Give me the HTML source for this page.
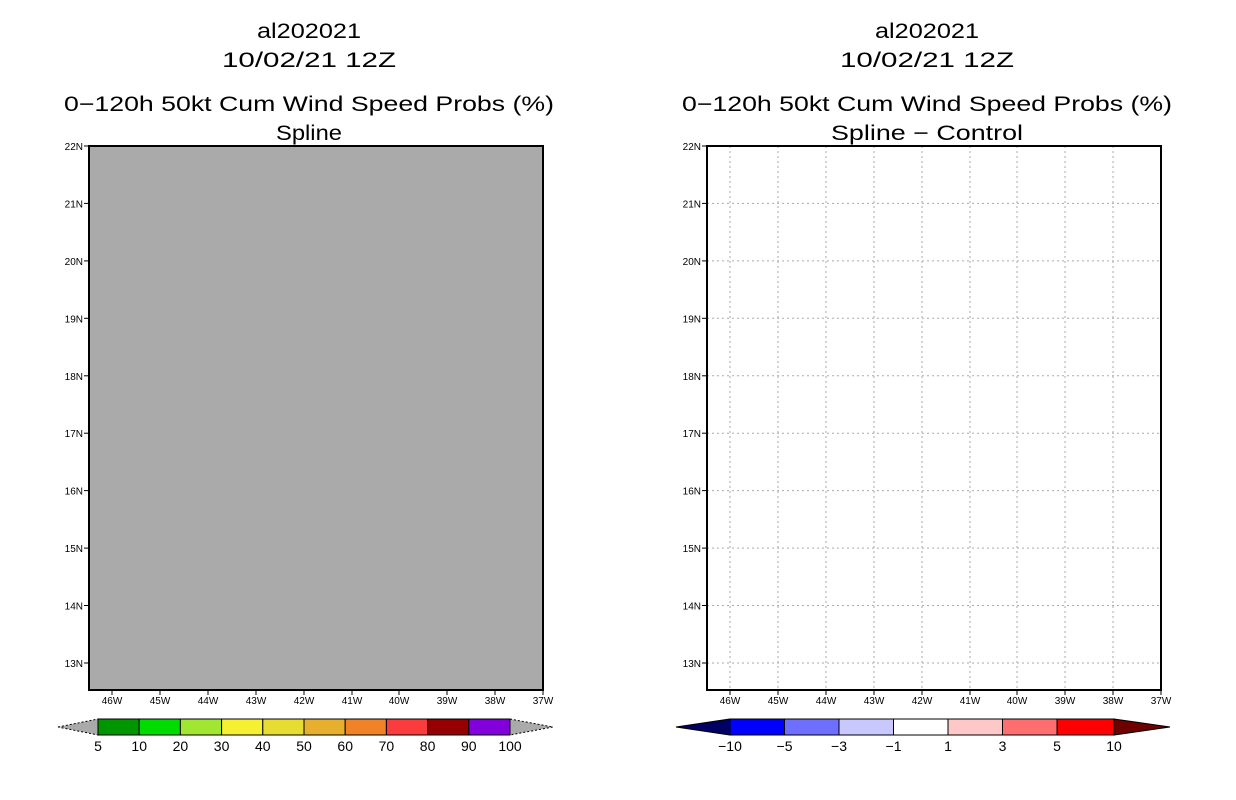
<!DOCTYPE html>
<html><head><meta charset="utf-8"><style>html,body{margin:0;padding:0;background:#fff}svg{display:block}</style></head><body>
<svg width="1236" height="800" xmlns="http://www.w3.org/2000/svg" font-family="Liberation Sans, sans-serif">
<rect width="1236" height="800" fill="#fff"/>
<g font-size="21" text-anchor="middle" fill="#000">
<text x="309" y="38" textLength="104" lengthAdjust="spacingAndGlyphs">al202021</text>
<text x="309" y="67" textLength="174" lengthAdjust="spacingAndGlyphs">10/02/21 12Z</text>
<text x="309" y="111" textLength="490" lengthAdjust="spacingAndGlyphs">0−120h 50kt Cum Wind Speed Probs (%)</text>
<text x="309" y="140" textLength="66" lengthAdjust="spacingAndGlyphs">Spline</text>
<text x="927" y="38" textLength="104" lengthAdjust="spacingAndGlyphs">al202021</text>
<text x="927" y="67" textLength="174" lengthAdjust="spacingAndGlyphs">10/02/21 12Z</text>
<text x="927" y="111" textLength="490" lengthAdjust="spacingAndGlyphs">0−120h 50kt Cum Wind Speed Probs (%)</text>
<text x="927" y="140" textLength="192" lengthAdjust="spacingAndGlyphs">Spline − Control</text>
</g>
<!-- left plot -->
<rect x="89" y="146" width="454" height="544" fill="#aaaaaa" stroke="#000" stroke-width="2"/>
<!-- right plot grid -->
<g stroke="#aaa" stroke-width="1" stroke-dasharray="2,3">
<line x1="730" y1="146" x2="730" y2="690"/><line x1="778" y1="146" x2="778" y2="690"/><line x1="826" y1="146" x2="826" y2="690"/><line x1="874" y1="146" x2="874" y2="690"/><line x1="922" y1="146" x2="922" y2="690"/><line x1="970" y1="146" x2="970" y2="690"/><line x1="1017" y1="146" x2="1017" y2="690"/><line x1="1065" y1="146" x2="1065" y2="690"/><line x1="1113" y1="146" x2="1113" y2="690"/>
<line x1="707" y1="203.4" x2="1161" y2="203.4"/><line x1="707" y1="260.9" x2="1161" y2="260.9"/><line x1="707" y1="318.3" x2="1161" y2="318.3"/><line x1="707" y1="375.8" x2="1161" y2="375.8"/><line x1="707" y1="433.2" x2="1161" y2="433.2"/><line x1="707" y1="490.6" x2="1161" y2="490.6"/><line x1="707" y1="548.1" x2="1161" y2="548.1"/><line x1="707" y1="605.5" x2="1161" y2="605.5"/><line x1="707" y1="663" x2="1161" y2="663"/>
</g>
<rect x="707" y="146" width="454" height="544" fill="none" stroke="#000" stroke-width="2"/>
<!-- ticks and labels, both plots -->
<g id="ax">
<g stroke="#000" stroke-width="1">
<line x1="84" y1="146" x2="89" y2="146"/><line x1="84" y1="203.4" x2="89" y2="203.4"/><line x1="84" y1="260.9" x2="89" y2="260.9"/><line x1="84" y1="318.3" x2="89" y2="318.3"/><line x1="84" y1="375.8" x2="89" y2="375.8"/><line x1="84" y1="433.2" x2="89" y2="433.2"/><line x1="84" y1="490.6" x2="89" y2="490.6"/><line x1="84" y1="548.1" x2="89" y2="548.1"/><line x1="84" y1="605.5" x2="89" y2="605.5"/><line x1="84" y1="663" x2="89" y2="663"/>
<line x1="112" y1="690" x2="112" y2="695"/><line x1="160" y1="690" x2="160" y2="695"/><line x1="208" y1="690" x2="208" y2="695"/><line x1="256" y1="690" x2="256" y2="695"/><line x1="304" y1="690" x2="304" y2="695"/><line x1="352" y1="690" x2="352" y2="695"/><line x1="399" y1="690" x2="399" y2="695"/><line x1="447" y1="690" x2="447" y2="695"/><line x1="495" y1="690" x2="495" y2="695"/><line x1="543" y1="690" x2="543" y2="695"/>
</g>
<g font-size="10" text-anchor="end">
<text x="83" y="150">22N</text><text x="83" y="207.4">21N</text><text x="83" y="264.9">20N</text><text x="83" y="322.3">19N</text><text x="83" y="379.8">18N</text><text x="83" y="437.2">17N</text><text x="83" y="494.6">16N</text><text x="83" y="552.1">15N</text><text x="83" y="609.5">14N</text><text x="83" y="667">13N</text>
</g>
<g font-size="10" text-anchor="middle">
<text x="112" y="704">46W</text><text x="160" y="704">45W</text><text x="208" y="704">44W</text><text x="256" y="704">43W</text><text x="304" y="704">42W</text><text x="352" y="704">41W</text><text x="399" y="704">40W</text><text x="447" y="704">39W</text><text x="495" y="704">38W</text><text x="543" y="704">37W</text>
</g>
</g>
<g transform="translate(618,0)">
<g stroke="#000" stroke-width="1">
<line x1="84" y1="146" x2="89" y2="146"/><line x1="84" y1="203.4" x2="89" y2="203.4"/><line x1="84" y1="260.9" x2="89" y2="260.9"/><line x1="84" y1="318.3" x2="89" y2="318.3"/><line x1="84" y1="375.8" x2="89" y2="375.8"/><line x1="84" y1="433.2" x2="89" y2="433.2"/><line x1="84" y1="490.6" x2="89" y2="490.6"/><line x1="84" y1="548.1" x2="89" y2="548.1"/><line x1="84" y1="605.5" x2="89" y2="605.5"/><line x1="84" y1="663" x2="89" y2="663"/>
<line x1="112" y1="690" x2="112" y2="695"/><line x1="160" y1="690" x2="160" y2="695"/><line x1="208" y1="690" x2="208" y2="695"/><line x1="256" y1="690" x2="256" y2="695"/><line x1="304" y1="690" x2="304" y2="695"/><line x1="352" y1="690" x2="352" y2="695"/><line x1="399" y1="690" x2="399" y2="695"/><line x1="447" y1="690" x2="447" y2="695"/><line x1="495" y1="690" x2="495" y2="695"/><line x1="543" y1="690" x2="543" y2="695"/>
</g>
<g font-size="10" text-anchor="end">
<text x="83" y="150">22N</text><text x="83" y="207.4">21N</text><text x="83" y="264.9">20N</text><text x="83" y="322.3">19N</text><text x="83" y="379.8">18N</text><text x="83" y="437.2">17N</text><text x="83" y="494.6">16N</text><text x="83" y="552.1">15N</text><text x="83" y="609.5">14N</text><text x="83" y="667">13N</text>
</g>
<g font-size="10" text-anchor="middle">
<text x="112" y="704">46W</text><text x="160" y="704">45W</text><text x="208" y="704">44W</text><text x="256" y="704">43W</text><text x="304" y="704">42W</text><text x="352" y="704">41W</text><text x="399" y="704">40W</text><text x="447" y="704">39W</text><text x="495" y="704">38W</text><text x="543" y="704">37W</text>
</g>
</g>
<!-- left colorbar -->
<g stroke="#000" stroke-width="1">
<polygon points="58,727 98,719 98,735" fill="#aaaaaa" stroke-dasharray="2,2"/>
<polygon points="510,719 553,727 510,735" fill="#aaaaaa" stroke-dasharray="2,2"/>
<rect x="98" y="719" width="41.2" height="16" fill="#009600"/>
<rect x="139.2" y="719" width="41.2" height="16" fill="#00dc00"/>
<rect x="180.4" y="719" width="41.2" height="16" fill="#a0e632"/>
<rect x="221.6" y="719" width="41.2" height="16" fill="#f5f032"/>
<rect x="262.8" y="719" width="41.2" height="16" fill="#e6dc32"/>
<rect x="304" y="719" width="41.2" height="16" fill="#e6af2d"/>
<rect x="345.2" y="719" width="41.2" height="16" fill="#f08228"/>
<rect x="386.4" y="719" width="41.2" height="16" fill="#fa3c3c"/>
<rect x="427.6" y="719" width="41.2" height="16" fill="#960000"/>
<rect x="468.8" y="719" width="41.2" height="16" fill="#8200dc"/>
</g>
<g font-size="14" text-anchor="middle">
<text x="98" y="751">5</text><text x="139.2" y="751">10</text><text x="180.4" y="751">20</text><text x="221.6" y="751">30</text><text x="262.8" y="751">40</text><text x="304" y="751">50</text><text x="345.2" y="751">60</text><text x="386.4" y="751">70</text><text x="427.6" y="751">80</text><text x="468.8" y="751">90</text><text x="510" y="751">100</text>
</g>
<!-- right colorbar -->
<g stroke="#000" stroke-width="1">
<polygon points="676,727 730,719 730,735" fill="#000064"/>
<polygon points="1114,719 1170,727 1114,735" fill="#6e0000"/>
<rect x="730" y="719" width="54.5" height="16" fill="#0000ff"/>
<rect x="784.5" y="719" width="54.5" height="16" fill="#6e6eff"/>
<rect x="839" y="719" width="54.5" height="16" fill="#c8c8ff"/>
<rect x="893.5" y="719" width="54.5" height="16" fill="#ffffff"/>
<rect x="948" y="719" width="54.5" height="16" fill="#ffc8c8"/>
<rect x="1002.5" y="719" width="54.5" height="16" fill="#ff6e6e"/>
<rect x="1057" y="719" width="57" height="16" fill="#ff0000"/>
</g>
<g font-size="14" text-anchor="middle">
<text x="730" y="751">−10</text><text x="784.5" y="751">−5</text><text x="839" y="751">−3</text><text x="893.5" y="751">−1</text><text x="948" y="751">1</text><text x="1002.5" y="751">3</text><text x="1057" y="751">5</text><text x="1114" y="751">10</text>
</g>
</svg>
</body></html>
